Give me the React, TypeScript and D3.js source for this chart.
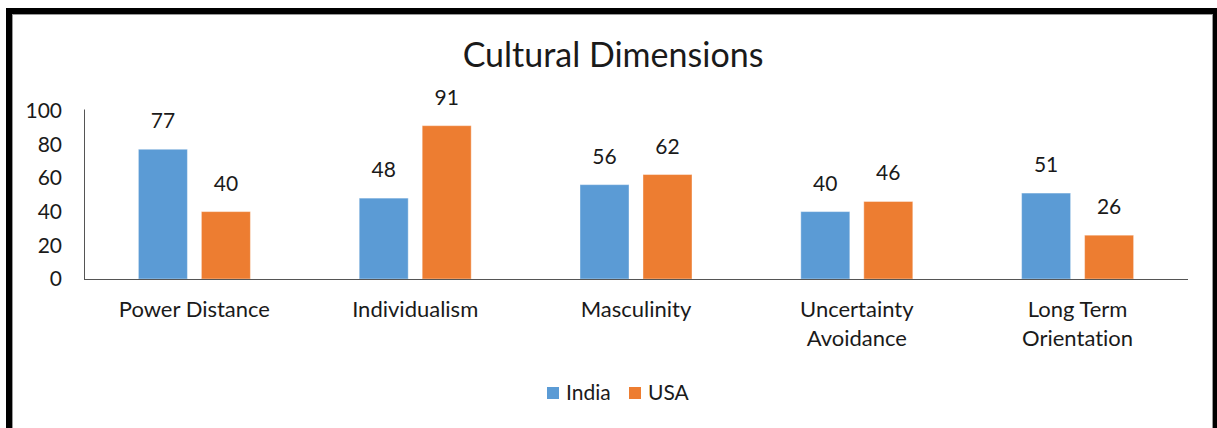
import { useEffect, useRef } from 'react';
import * as d3 from 'd3';

const categories = ['Power Distance', 'Individualism', 'Masculinity', 'Uncertainty Avoidance', 'Long Term Orientation'];
const seriesNames = ['India', 'USA'];
const indiaValues = [77, 48, 56, 40, 51];
const usaValues = [40, 91, 62, 46, 26];
const yTicks = [0, 20, 40, 60, 80, 100];
const colors = ['#5B9BD5', '#ED7D31'];

const FONT = 'Lato, "Open Sans", sans-serif';

// break long category names in two lines like Excel does
function wrapLabel(name: string): string[] {
  if (name.length <= 15) return [name];
  const i = name.lastIndexOf(' ');
  return [name.slice(0, i), name.slice(i + 1)];
}

export default function App() {
  const svgRef = useRef<SVGSVGElement>(null);

  useEffect(() => {
    if (!svgRef.current) return;
    const svg = d3.select(svgRef.current);
    svg.selectAll('*').remove();

    const width = 1217;
    const height = 428;
    const left = 84;
    const right = 1188;
    const baseY = 279;
    const topY = 110.5;

    svg.attr('width', width).attr('height', height)
      .style('font-variant-ligatures', 'none');

    // frame
    svg.append('rect')
      .attr('x', 0).attr('y', 0).attr('width', width).attr('height', height)
      .attr('fill', '#fff');
    svg.append('rect')
      .attr('x', 9).attr('y', 11).attr('width', 1207).attr('height', 440)
      .attr('fill', 'none').attr('stroke', '#000').attr('stroke-width', 6);
    svg.append('rect')
      .attr('x', 12.5).attr('y', 14.5).attr('width', 1200).attr('height', 440)
      .attr('fill', 'none').attr('stroke', '#999').attr('stroke-width', 1);

    // title
    svg.append('text')
      .attr('x', 613).attr('y', 67)
      .attr('text-anchor', 'middle')
      .attr('font-family', FONT)
      .attr('font-size', 34)
      .attr('fill', '#1a1a1a')
      .text('Cultural Dimensions');

    const x0 = d3.scaleBand<string>().domain(categories).range([left, right]);
    const bw = x0.bandwidth();
    const groupW = 112;
    const x1 = d3.scaleBand<string>()
      .domain(seriesNames)
      .range([(bw - groupW) / 2, (bw + groupW) / 2])
      .paddingInner(0.222);
    const y = d3.scaleLinear().domain([0, 100]).range([baseY, topY]);

    // y tick labels
    svg.append('g')
      .selectAll('text')
      .data(yTicks)
      .join('text')
      .attr('x', 62)
      .attr('y', d => y(d))
      .attr('dy', '0.35em')
      .attr('text-anchor', 'end')
      .attr('font-family', FONT)
      .attr('font-size', 21)
      .attr('fill', '#1a1a1a')
      .text(d => d);

    const seriesValues = [indiaValues, usaValues];

    categories.forEach((cat, ci) => {
      const g = svg.append('g').attr('transform', `translate(${x0(cat)},0)`);
      seriesNames.forEach((s, si) => {
        const v = seriesValues[si][ci];
        g.append('rect')
          .attr('x', x1(s)!)
          .attr('y', y(v))
          .attr('width', x1.bandwidth())
          .attr('height', baseY - y(v))
          .attr('fill', colors[si])
          .attr('stroke', '#fff')
          .attr('stroke-opacity', 0.4)
          .attr('stroke-width', 1);
        g.append('text')
          .attr('x', x1(s)! + x1.bandwidth() / 2)
          .attr('y', y(v) - 21)
          .attr('text-anchor', 'middle')
          .attr('font-family', FONT)
          .attr('font-size', 21)
          .attr('fill', '#1a1a1a')
          .text(v);
      });
      const lines = wrapLabel(cat);
      const t = svg.append('text')
        .attr('text-anchor', 'middle')
        .attr('font-family', FONT)
        .attr('font-size', 22)
        .attr('fill', '#1a1a1a');
      lines.forEach((line, li) => {
        t.append('tspan')
          .attr('x', x0(cat)! + bw / 2)
          .attr('y', 317 + li * 29)
          .text(line);
      });
    });

    // axes lines
    svg.append('line')
      .attr('x1', left + 0.5).attr('x2', left + 0.5)
      .attr('y1', topY - 1).attr('y2', baseY)
      .attr('stroke', '#555').attr('stroke-width', 1);
    svg.append('line')
      .attr('x1', left).attr('x2', right)
      .attr('y1', baseY + 0.5).attr('y2', baseY + 0.5)
      .attr('stroke', '#555').attr('stroke-width', 1);

    // legend
    const legendX = [547, 629];
    seriesNames.forEach((s, si) => {
      svg.append('rect')
        .attr('x', legendX[si]).attr('y', 387)
        .attr('width', 12).attr('height', 12)
        .attr('fill', colors[si]);
      svg.append('text')
        .attr('x', legendX[si] + 19).attr('y', 400)
        .attr('font-family', FONT)
        .attr('font-size', 21)
        .attr('fill', '#1a1a1a')
        .text(s);
    });
  }, []);

  return (
    <svg
      ref={svgRef}
      style={{ position: 'absolute', left: 0, top: 0, display: 'block' }}
    />
  );
}
